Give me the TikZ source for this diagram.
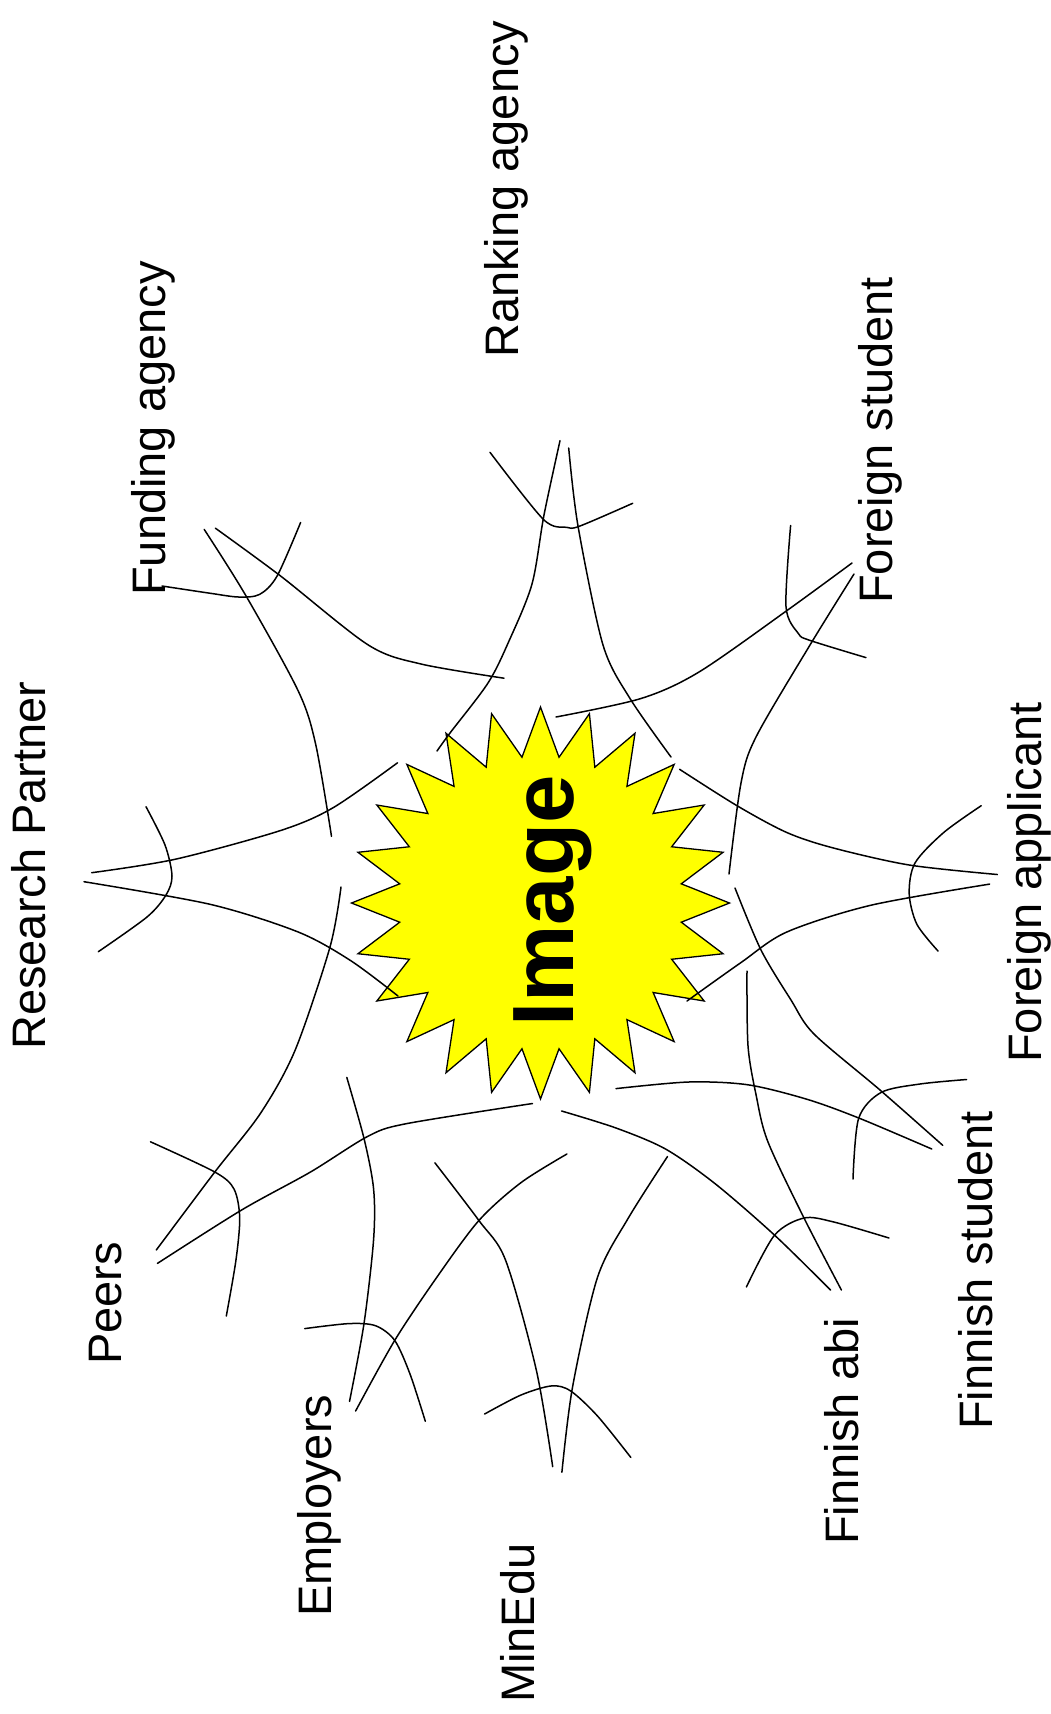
\documentclass[tikz,border=0pt]{standalone}
\usepackage{fontspec}
\setmainfont{Liberation Sans}
\definecolor{burstyellow}{RGB}{255,255,0}
\begin{document}
\begin{tikzpicture}[x=1pt,y=-1pt]
\tikzset{
  eyeline/.style={line width=1.5pt, line cap=round},
  lbl/.style={rotate=90, anchor=base west, inner sep=0pt, font=\fontsize{47}{56}\selectfont},
  burst/.style={fill=burstyellow, draw=black, line width=1.3pt, line join=miter},
}
\useasboundingbox (0,0) rectangle (1050,1714);
\fill[white] (0,0) rectangle (1050,1714);

% central starburst, 24 points
\draw[burst] (729.5,903)
  \foreach \k in {1,...,47}{
    -- ({540.5+ifthenelse(isodd(\k),142,189)*cos(7.5*\k)},
        {903-ifthenelse(isodd(\k),147,196)*sin(7.5*\k)})
  } -- cycle;
\node[rotate=90, anchor=base west, inner sep=0pt,
      font=\fontsize{87}{100}\selectfont\bfseries] (image) at (573,1027) {Image};

% viewing cones: two converging lines and a crossing arc each
% Ranking agency
\draw[eyeline] plot[smooth] coordinates {(560,440.7) (544,515) (532,584) (509,641) (488,683) (450,733) (437,751)};
\draw[eyeline] plot[smooth] coordinates {(568.7,448) (578,526) (603,645) (630,698.5) (671,757)};
\draw[eyeline] plot[smooth] coordinates {(490,452.3) (543.3,519.3) (566.7,527.3) (580,526) (632.7,503.3)};
% Foreign student
\draw[eyeline] plot[smooth] coordinates {(852,563) (787,610.5) (699,672) (641,698.5) (556,717)};
\draw[eyeline] plot[smooth] coordinates {(854,574) (810,645) (756,737) (741,783) (729,874)};
\draw[eyeline] plot[smooth] coordinates {(790.6,525.5) (786,606.7) (798.3,633.4) (809.7,640.3) (866,657.6)};
% Foreign applicant
\draw[eyeline] plot[smooth] coordinates {(997.3,874.5) (909.2,865) (832.7,847.8) (786.8,832.5) (737,805.7) (679.6,769.3)};
\draw[eyeline] plot[smooth] coordinates {(989.6,884.1) (871,905.2) (786.8,932) (740.9,962.6) (687,1001)};
\draw[eyeline] plot[smooth] coordinates {(981.2,805.7) (943.7,832.5) (915,863) (909.2,893.7) (916.9,924.3) (938,951)};
% Finnish student
\draw[eyeline] plot[smooth] coordinates {(942.7,1145.3) (880,1090) (814,1034) (791,1000) (761,950) (735,888)};
\draw[eyeline] plot[smooth] coordinates {(931.8,1149) (860,1118.5) (807.4,1099.4) (748,1084.8) (688.6,1082) (616,1088.6)};
\draw[eyeline] plot[smooth] coordinates {(853,1179) (858.6,1118.5) (881,1092.5) (920,1084) (966.5,1079.5)};
% Finnish abi
\draw[eyeline] plot[smooth] coordinates {(830.5,1290) (774.4,1235) (715,1183.6) (665.5,1149) (616,1128) (561.6,1111)};
\draw[eyeline] plot[smooth] coordinates {(841.4,1290) (804,1218) (767.8,1141.5) (756.2,1095.5) (748,1045.8) (747,971)};
\draw[eyeline] plot[smooth] coordinates {(746.4,1287) (774.4,1235.3) (804,1218) (833.8,1222) (889,1238)};
% MinEdu
\draw[eyeline] plot[smooth] coordinates {(552.7,1466.7) (536.3,1370) (505.7,1260.5) (478.9,1220.5) (434.9,1162.8)};
\draw[eyeline] plot[smooth] coordinates {(561.9,1472.2) (572.6,1386.7) (597.5,1277.3) (628.1,1218.4) (667.5,1156.5)};
\draw[eyeline] plot[smooth] coordinates {(484.6,1414) (521,1395) (551.6,1385.9) (570.7,1391) (597.5,1416) (630.8,1457.4)};
% Employers
\draw[eyeline] plot[smooth] coordinates {(349.5,1401.4) (364,1323.6) (373.6,1239.4) (373.6,1189) (364,1138.4) (346.8,1077.4)};
\draw[eyeline] plot[smooth] coordinates {(355.6,1411) (394.7,1340.4) (436.8,1277.3) (478.9,1220.5) (521,1182.6) (566.9,1154)};
\draw[eyeline] plot[smooth] coordinates {(304.7,1328.6) (348.8,1323.6) (375.5,1325.7) (394.7,1340.4) (410,1374) (425.3,1421.2)};
% Peers
\draw[eyeline] plot[smooth] coordinates {(156.3,1250) (214.8,1172) (260.7,1113) (295.2,1050) (330,947) (341,887)};
\draw[eyeline] plot[smooth] coordinates {(157.4,1263.4) (241.6,1210) (310.5,1172) (367.9,1136.3) (406.2,1123.7) (532.5,1103.5)};
\draw[eyeline] plot[smooth] coordinates {(150.5,1141.8) (214.8,1172) (234,1189) (239.7,1218) (235.9,1260.5) (226.3,1316)};
% Research Partner
\draw[eyeline] plot[smooth] coordinates {(91.7,872.7) (175.4,859.2) (280.6,830.5) (333.3,807.6) (397.5,762.8)};
\draw[eyeline] plot[smooth] coordinates {(84,881.7) (210.5,904.4) (298.2,932) (350.8,960.7) (398,996)};
\draw[eyeline] plot[smooth] coordinates {(146,806.7) (165,845) (172,876) (166,895) (147,917) (98.3,951.7)};
% Funding agency
\draw[eyeline] plot[smooth] coordinates {(204.2,529.4) (245.6,595.2) (298.2,690.9) (315.7,744.4) (331.5,836.3)};
\draw[eyeline] plot[smooth] coordinates {(215.4,528.2) (280.6,576) (368.3,645) (421,664) (504,678.2)};
\draw[eyeline] plot[smooth] coordinates {(162,586) (210.5,593.3) (238.5,597) (259.6,594.4) (277.1,576) (300.6,522.5)};

% stakeholder labels
\node[lbl] (rank) at (518,358) {Ranking agency};
\node[lbl] (fund) at (165,596) {Funding agency};
\node[lbl] (resp) at (45.5,1050) {Research Partner};
\node[lbl] (peers) at (121,1365) {Peers};
\node[lbl] (empl) at (331.5,1617) {Employers};
\node[lbl] (minedu) at (534,1703) {MinEdu};
\node[lbl] (fabi) at (858.5,1545) {Finnish abi};
\node[lbl] (fstu) at (992,1430) {Finnish student};
\node[lbl] (fapp) at (1041,1063) {Foreign applicant};
\node[lbl] (fors) at (892,604) {Foreign student};
\end{tikzpicture}
\end{document}
